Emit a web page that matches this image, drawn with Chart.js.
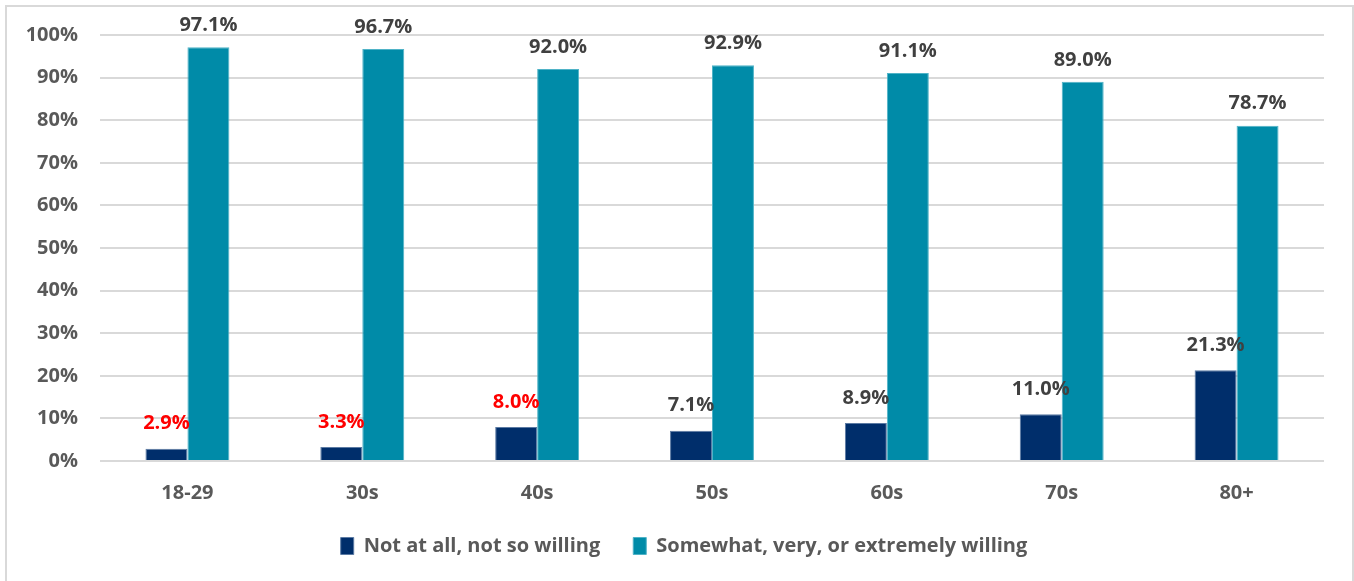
<!DOCTYPE html>
<html lang="en">
<head>
<meta charset="UTF-8">
<title>Willingness by age group</title>
<script src="https://cdn.jsdelivr.net/npm/chart.js"></script>
<style>
  body { margin: 0; background: #fff; overflow: hidden; }
  #frame {
    position: absolute; left: 5px; top: 5px; width: 1345px; height: 600px;
    border: 2px solid #d9d9d9;
  }
  #wrap { position: absolute; left: 0; top: 0; width: 1354px; height: 581px; }
</style>
</head>
<body>
<div id="frame"></div>
<div id="wrap"><canvas id="myChart" width="1354" height="581"></canvas></div>

<script>
const ageGroups = ["18-29", "30s", "40s", "50s", "60s", "70s", "80+"];
const notWilling = [2.9, 3.3, 8.0, 7.1, 8.9, 11.0, 21.3];
const willing = [97.1, 96.7, 92.0, 92.9, 91.1, 89.0, 78.7];
// first three "not willing" labels are highlighted in red
const highlighted = [true, true, true, false, false, false, false];

const family = "'Open Sans', 'Liberation Sans', sans-serif";
const labelFont = "bold 20px " + family;

// value labels above each bar
const valueLabels = {
  id: "valueLabels",
  afterDatasetsDraw(chart) {
    const ctx = chart.ctx;
    ctx.save();
    ctx.font = labelFont;
    ctx.textAlign = "center";
    ctx.textBaseline = "middle";
    chart.data.datasets.forEach((ds, di) => {
      chart.getDatasetMeta(di).data.forEach((bar, i) => {
        const red = di === 0 && highlighted[i];
        ctx.fillStyle = red ? "#ff0000" : "#404040";
        const gap = di === 0 ? 25 : 22;
        ctx.fillText(ds.data[i].toFixed(1) + "%", bar.x, bar.y - gap);
      });
    });
    ctx.restore();
  }
};

const ctx = document.getElementById("myChart").getContext("2d");
new Chart(ctx, {
  type: "bar",
  data: {
    labels: ageGroups,
    datasets: [
      {
        label: "Not at all, not so willing",
        data: notWilling,
        backgroundColor: "#002e6b",
        borderColor: "#5b7aa3",
        borderWidth: 1
      },
      {
        label: "Somewhat, very, or extremely willing",
        data: willing,
        backgroundColor: "#008ba8",
        borderColor: "#4fb3c7",
        borderWidth: 1
      }
    ]
  },
  options: {
    responsive: false,
    animation: false,
    datasets: {
      bar: { categoryPercentage: 0.48, barPercentage: 1.0 }
    },
    layout: { padding: { top: 35, right: 0, bottom: 15, left: 14 } },
    plugins: {
      legend: {
        position: "bottom",
        labels: {
          boxWidth: 13,
          boxHeight: 17,
          padding: 33,
          color: "#595959",
          font: { family: family, size: 20, weight: "bold" }
        }
      },
      tooltip: { enabled: false }
    },
    scales: {
      x: {
        grid: { display: false, drawTicks: false },
        border: { display: false },
        ticks: {
          padding: 20,
          color: "#595959",
          font: { family: family, size: 20, weight: "bold" }
        },
        afterFit(scale) { scale.height = 42; }
      },
      y: {
        min: 0,
        max: 100,
        grid: { color: "#d9d9d9", lineWidth: 2, drawTicks: false },
        border: { display: false },
        ticks: {
          stepSize: 10,
          padding: 22,
          color: "#595959",
          font: { family: family, size: 20, weight: "bold" },
          callback: v => v + "%"
        },
        afterFit(scale) { scale.width = 86; }
      },
      // empty right-hand gutter
      yRight: {
        position: "right",
        grid: { display: false, drawTicks: false },
        border: { display: false },
        ticks: { display: false },
        afterFit(scale) { scale.width = 30; }
      }
    }
  },
  plugins: [valueLabels]
});
</script>
</body>
</html>
